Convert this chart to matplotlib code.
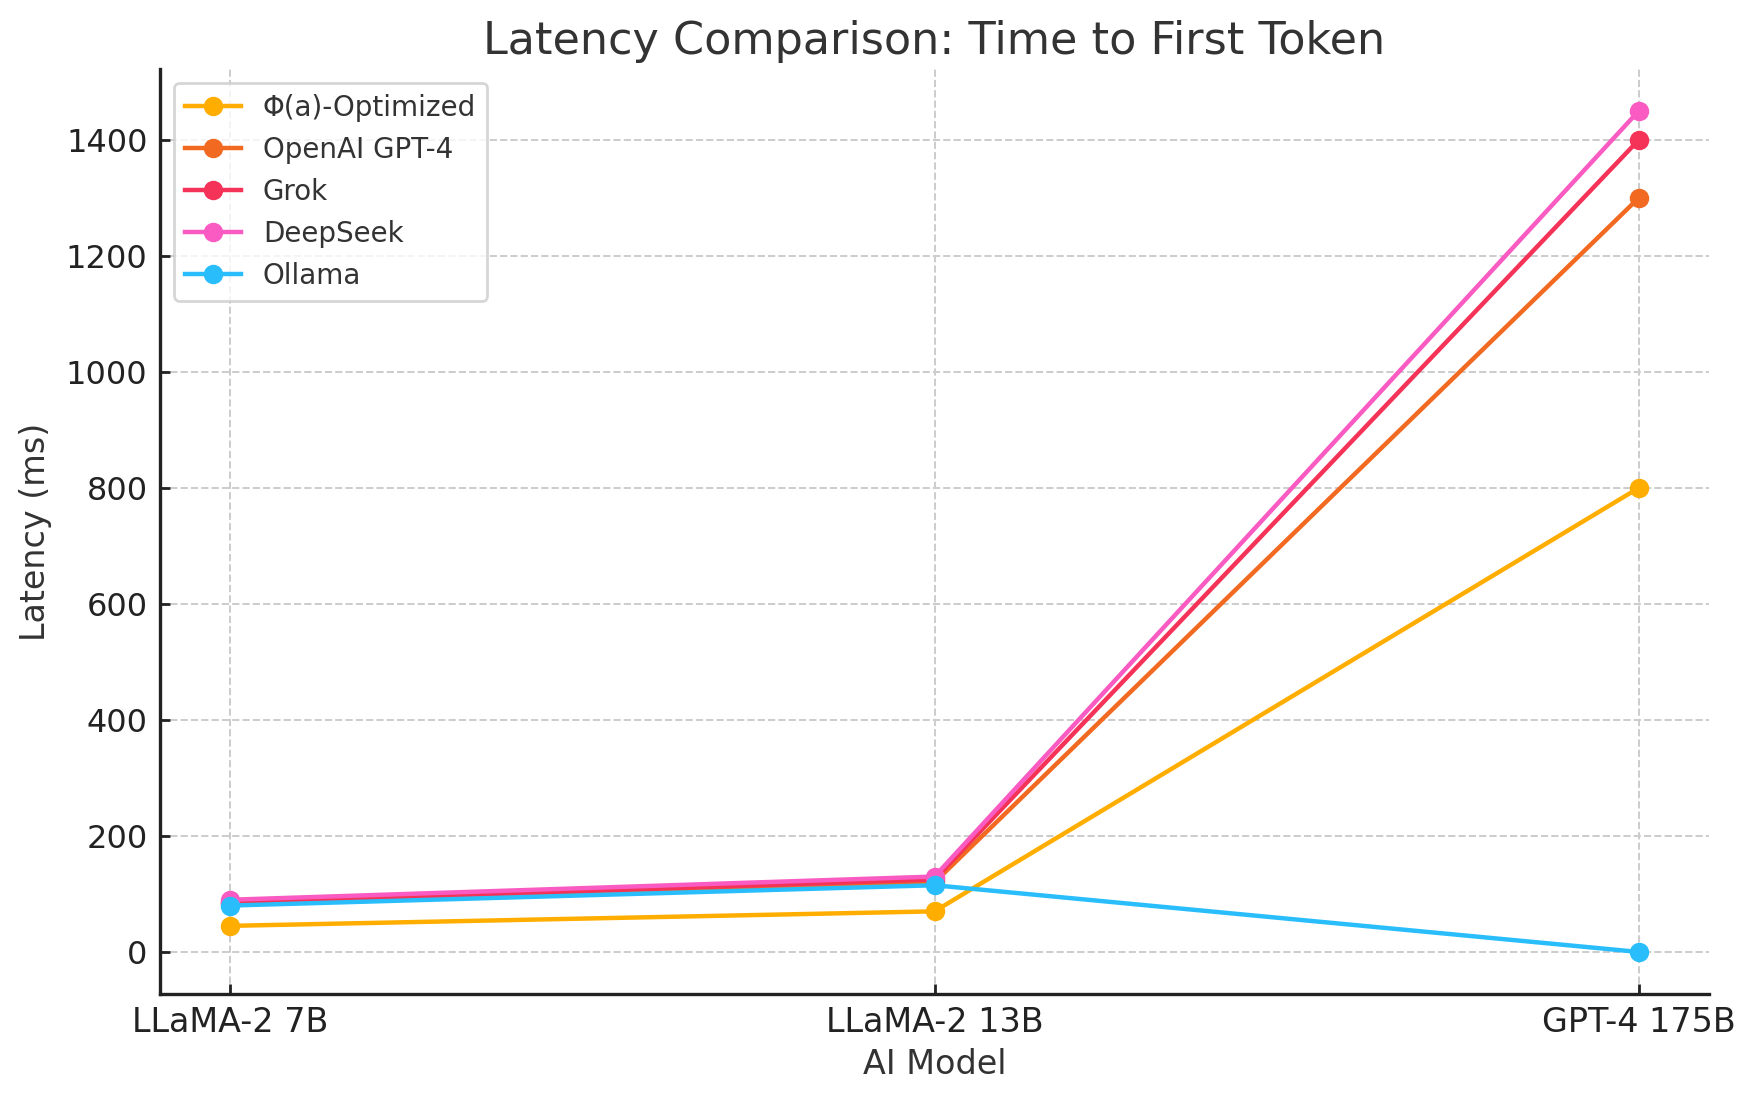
import matplotlib
matplotlib.use("Agg")
import matplotlib.pyplot as plt

models = ["LLaMA-2 7B", "LLaMA-2 13B", "GPT-4 175B"]
phi_optimized = [45, 70, 800]
openai_gpt4 = [85, 120, 1300]
grok = [85, 125, 1400]
deepseek = [90, 130, 1450]
ollama = [80, 115, 0]

series = [
    ("Φ(a)-Optimized", phi_optimized, "#FFAE00"),
    ("OpenAI GPT-4", openai_gpt4, "#F26A21"),
    ("Grok", grok, "#F53358"),
    ("DeepSeek", deepseek, "#F95BC2"),
    ("Ollama", ollama, "#29BEFB"),
]

plt.rcParams["font.family"] = "DejaVu Sans"

fig = plt.figure(figsize=(8.775, 5.505), dpi=200)
ax = fig.add_axes([0.0912, 0.0972, 0.8826, 0.8401])

x = range(len(models))
for label, vals, color in series:
    ax.plot(x, vals, marker="o", color=color, linewidth=1.6, markersize=6, label=label)

ax.set_xticks(list(x))
ax.set_xticklabels(models)
ax.tick_params(axis="both", direction="in", colors="#222222", width=1.0, length=3.5, pad=4.5)
ax.tick_params(axis="x", labelsize=12)
ax.tick_params(axis="y", labelsize=11.5)
ax.set_xlabel("AI Model", fontsize=12, color="#333333", labelpad=3)
ax.set_ylabel("Latency (ms)", fontsize=12, color="#333333", labelpad=5)
ax.set_title("Latency Comparison: Time to First Token", fontsize=16, color="#333333", pad=5.5)

ax.grid(True, linestyle="--", color="#cccccc", linewidth=0.7)
ax.set_axisbelow(True)
for side in ["top", "right"]:
    ax.spines[side].set_visible(False)
for side in ["left", "bottom"]:
    ax.spines[side].set_color("#222222")
    ax.spines[side].set_linewidth(1.2)

leg = ax.legend(loc="upper left", fontsize=10, frameon=True, fancybox=True)
leg.get_frame().set_edgecolor("#cccccc")
for t in leg.get_texts():
    t.set_color("#333333")

fig.savefig("out.png", dpi=200)
